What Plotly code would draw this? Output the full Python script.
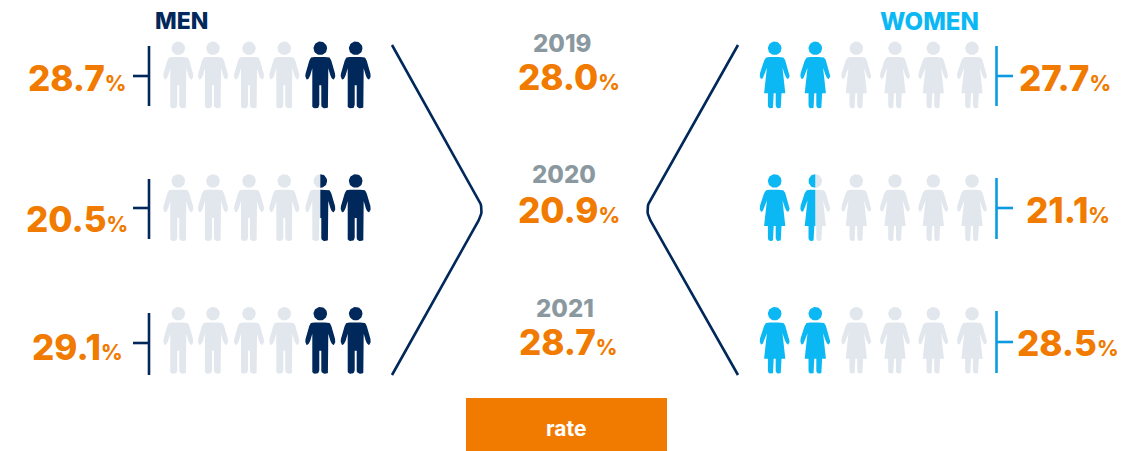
import numpy as np
import plotly.graph_objects as go

# ---------- data ----------
years = ["2019", "2020", "2021"]
men_rate = ["28.7", "20.5", "29.1"]
women_rate = ["27.7", "21.1", "28.5"]
total_rate = ["28.0", "20.9", "28.7"]
men_icons_filled = [2, 1.5, 2]
women_icons_filled = [2, 1.5, 2]
ICONS_PER_ROW = 6

# ---------- layout constants (pixels) ----------
W, H = 1137, 451
DARK, BLUE, LINE_BLUE, GREY = "#00285A", "#0CB8F3", "#0A9BE0", "#E1E7ED"
ORANGE, YEAR_GREY = "#F07B00", "#8A989F"
FONT = "Inter"

men_x = [178.3, 213, 249, 284.3, 320.3, 355.7]
women_x = [774.7, 815.3, 856.3, 895, 933.3, 972]
men_head_y = [48.3, 181, 313.7]
women_head_y = [48.3, 181, 313.7]
men_bracket = [(46, 106, 76), (179, 239, 208), (313, 375, 343)]
women_bracket = [(46, 106, 76), (178, 239, 208), (311, 373, 342)]
men_label = [(77, 78), (77, 219), (77, 347)]
women_label = [(1064.5, 78), (1067.5, 210), (1067.5, 343)]
total_label = [(568.5, 77), (568.5, 210), (568, 342)]
year_label = [(562, 43), (564, 174), (564.5, 308)]


def rounded(pts):
    """pts: (x, y, r); returns a closed outline with rounded corners."""
    out = []
    n = len(pts)
    for i in range(n):
        p0 = np.array(pts[i - 1][:2], float)
        p1 = np.array(pts[i][:2], float)
        p2 = np.array(pts[(i + 1) % n][:2], float)
        r = pts[i][2]
        if r == 0:
            out.append(p1)
            continue
        a = p1 + (p0 - p1) / np.linalg.norm(p0 - p1) * min(r, np.linalg.norm(p0 - p1) / 2)
        b = p1 + (p2 - p1) / np.linalg.norm(p2 - p1) * min(r, np.linalg.norm(p2 - p1) / 2)
        for t in np.linspace(0, 1, 7):
            out.append((1 - t) ** 2 * a + 2 * t * (1 - t) * p1 + t ** 2 * b)
    return np.array(out)


def mirrored(half):
    left = [(-x, y, r) for x, y, r in reversed(half)]
    return rounded(half + left)


MAN_BODY = mirrored([
    (7.0, 8.7, 2.5), (10.2, 9.5, 3), (15.4, 27.5, 2.5), (13.6, 32.2, 3), (10.7, 29.2, 2),
    (8.0, 20.0, 0), (8.0, 56, 0), (8.0, 60, 4), (1.0, 60, 3.5), (1.0, 37, 0),
])
WOMAN_BODY = mirrored([
    (6.0, 8.7, 2.5), (9.7, 9.5, 3), (15.4, 27.0, 2.5), (13.6, 31.7, 3), (10.9, 28.7, 2),
    (7.8, 19.5, 0), (10.6, 45, 0), (6.8, 45, 0), (6.8, 60, 3.5), (1.0, 60, 3.3), (1.0, 45, 0),
])
th = np.linspace(0, 2 * np.pi, 49)
HEAD = np.column_stack([6.8 * np.cos(th), 6.8 * np.sin(th)])


def clip(poly, side):
    """Keep the part of a polygon with x>=0 (side=1) or x<=0 (side=-1)."""
    out = []
    for i in range(len(poly)):
        a, b = poly[i - 1], poly[i]
        ia, ib = a[0] * side >= 0, b[0] * side >= 0
        if ia != ib:
            t = a[0] / (a[0] - b[0])
            out.append(a + t * (b - a))
        if ib:
            out.append(b)
    return np.array(out)


class Bag:
    def __init__(self):
        self.x, self.y = [], []

    def add(self, poly, cx, cy):
        self.x += list(poly[:, 0] + cx) + [None]
        self.y += list(poly[:, 1] + cy) + [None]

    def trace(self, color):
        return go.Scatter(x=self.x, y=self.y, mode="lines", fill="toself", fillcolor=color,
                          line=dict(width=0, color=color), hoverinfo="skip", showlegend=False)


grey, dark, blue = Bag(), Bag(), Bag()


def icon(bag, body, cx, cy, side=None):
    for part in (body, HEAD):
        bag.add(part if side is None else clip(part, side), cx, cy)


for filled, y in zip(men_icons_filled, men_head_y):
    for i, x in enumerate(men_x):
        from_right = ICONS_PER_ROW - i          # filled from the right-hand end
        if from_right <= int(filled):
            icon(dark, MAN_BODY, x, y)
        elif from_right - 0.5 == filled:
            icon(grey, MAN_BODY, x, y, -1)
            icon(dark, MAN_BODY, x, y, 1)
        else:
            icon(grey, MAN_BODY, x, y)

for filled, y in zip(women_icons_filled, women_head_y):
    for i, x in enumerate(women_x):
        pos = i + 1                             # filled from the left-hand end
        if pos <= int(filled):
            icon(blue, WOMAN_BODY, x, y)
        elif pos - 0.5 == filled:
            icon(blue, WOMAN_BODY, x, y, -1)
            icon(grey, WOMAN_BODY, x, y, 1)
        else:
            icon(grey, WOMAN_BODY, x, y)

fig = go.Figure([grey.trace(GREY), dark.trace(DARK), blue.trace(BLUE)])


def stroke(xs, ys, color, width=2.6):
    fig.add_trace(go.Scatter(x=xs, y=ys, mode="lines", hoverinfo="skip", showlegend=False,
                             line=dict(color=color, width=width, shape="linear")))


# brackets
for top, bot, tick in men_bracket:
    stroke([149, 149, None, 133, 149], [top, bot, None, tick, tick], DARK)
for top, bot, tick in women_bracket:
    stroke([996.5, 996.5, None, 996.5, 1013], [top, bot, None, tick, tick], LINE_BLUE)


# chevrons with a rounded point
def chevron(x_end, x_tip):
    pts = [(x_end, 45), (x_tip, 210), (x_end, 375)]
    a = np.array(pts[0], float)
    v = np.array(pts[1], float)
    c = np.array(pts[2], float)
    p = a + (v - a) * (1 - 12 / np.linalg.norm(v - a))
    q = c + (v - c) * (1 - 12 / np.linalg.norm(v - c))
    curve = [(1 - t) ** 2 * p + 2 * t * (1 - t) * v + t ** 2 * q for t in np.linspace(0, 1, 11)]
    line = [a] + curve + [c]
    stroke([float(r[0]) for r in line], [float(r[1]) for r in line], DARK)


chevron(392, 484.5)
chevron(738, 644.5)

# rate box
fig.add_shape(type="rect", x0=466, x1=667, y0=398, y1=451, fillcolor=ORANGE, line_width=0, layer="below")


def text(x, y, s, size, color, weight=800):
    fig.add_annotation(x=x, y=y, text=s, showarrow=False, xanchor="center", yanchor="middle",
                       font=dict(family=FONT, size=size, color=color, weight=weight))


def pct(v):
    return f'{v}<span style="font-size:21px">%</span>'


for (x, y), v in zip(men_label, men_rate):
    text(x, y, pct(v), 35, ORANGE)
for (x, y), v in zip(women_label, women_rate):
    text(x, y, pct(v), 35, ORANGE)
for (x, y), v in zip(total_label, total_rate):
    text(x, y, pct(v), 35, ORANGE)
for (x, y), v in zip(year_label, years):
    text(x, y, v, 24, YEAR_GREY)

text(181.5, 21, "MEN", 23, DARK)
text(929.5, 21, "WOMEN", 24, BLUE)
text(566, 428, "rate", 21, "#FFFFFF", 700)

fig.update_layout(
    width=W, height=H, margin=dict(l=0, r=0, t=0, b=0),
    paper_bgcolor="white", plot_bgcolor="white", showlegend=False,
    xaxis=dict(range=[0, W], visible=False, fixedrange=True),
    yaxis=dict(range=[H, 0], visible=False, fixedrange=True),
)
fig.write_html("out.html", config=dict(displayModeBar=False),
               post_script="document.body.style.margin='0';document.body.style.overflow='hidden';")
